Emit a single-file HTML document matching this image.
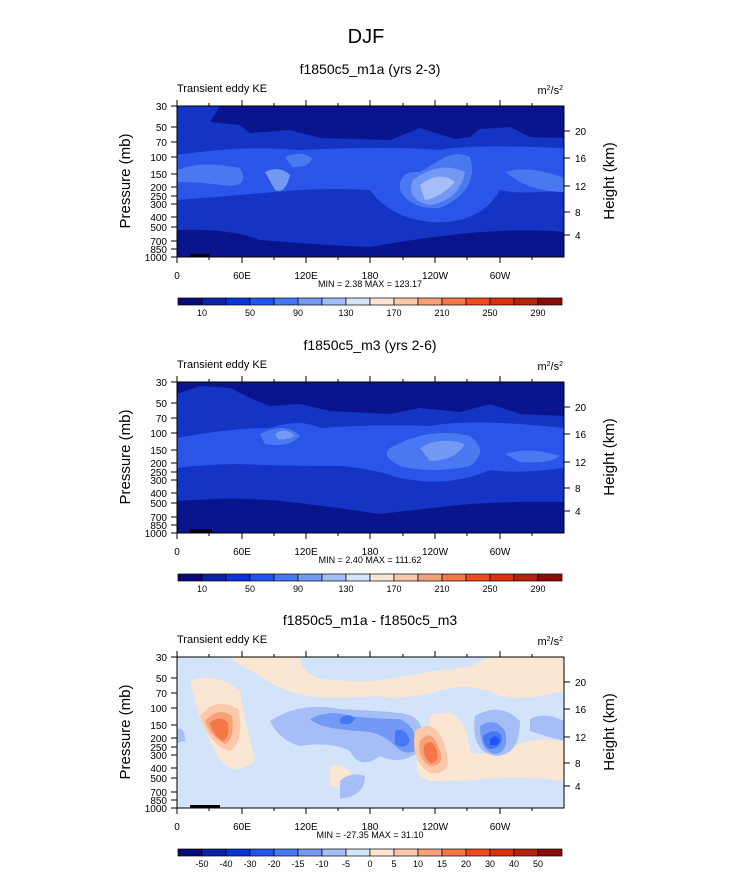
<!DOCTYPE html>
<html><head><meta charset="utf-8"><style>
body{margin:0;background:#fff;}
svg{display:block;font-family:"Liberation Sans",sans-serif;}
</style></head><body>
<svg width="733" height="888" viewBox="0 0 733 888" xmlns="http://www.w3.org/2000/svg">
<defs>
<g id="axes">
  <rect x="177" y="106" width="387" height="151" fill="none" stroke="#000" stroke-width="1"/>
  <g stroke="#000" stroke-width="1">
    <line x1="177" y1="257" x2="177" y2="263"/><line x1="209" y1="257" x2="209" y2="260"/>
    <line x1="242" y1="257" x2="242" y2="263"/><line x1="274" y1="257" x2="274" y2="260"/>
    <line x1="306" y1="257" x2="306" y2="263"/><line x1="338" y1="257" x2="338" y2="260"/>
    <line x1="370" y1="257" x2="370" y2="263"/><line x1="403" y1="257" x2="403" y2="260"/>
    <line x1="435" y1="257" x2="435" y2="263"/><line x1="467" y1="257" x2="467" y2="260"/>
    <line x1="500" y1="257" x2="500" y2="263"/><line x1="532" y1="257" x2="532" y2="260"/>
    <line x1="177" y1="106" x2="177" y2="100"/><line x1="209" y1="106" x2="209" y2="103"/>
    <line x1="242" y1="106" x2="242" y2="100"/><line x1="274" y1="106" x2="274" y2="103"/>
    <line x1="306" y1="106" x2="306" y2="100"/><line x1="338" y1="106" x2="338" y2="103"/>
    <line x1="370" y1="106" x2="370" y2="100"/><line x1="403" y1="106" x2="403" y2="103"/>
    <line x1="435" y1="106" x2="435" y2="100"/><line x1="467" y1="106" x2="467" y2="103"/>
    <line x1="500" y1="106" x2="500" y2="100"/><line x1="532" y1="106" x2="532" y2="103"/>
    <line x1="171" y1="106" x2="177" y2="106"/><line x1="171" y1="127" x2="177" y2="127"/>
    <line x1="171" y1="142" x2="177" y2="142"/><line x1="171" y1="157" x2="177" y2="157"/>
    <line x1="171" y1="174" x2="177" y2="174"/><line x1="171" y1="187" x2="177" y2="187"/>
    <line x1="171" y1="196" x2="177" y2="196"/><line x1="171" y1="204" x2="177" y2="204"/>
    <line x1="171" y1="217" x2="177" y2="217"/><line x1="171" y1="227" x2="177" y2="227"/>
    <line x1="171" y1="241" x2="177" y2="241"/><line x1="171" y1="249" x2="177" y2="249"/>
    <line x1="171" y1="257" x2="177" y2="257"/>
    <line x1="564" y1="131" x2="570" y2="131"/><line x1="564" y1="158" x2="570" y2="158"/>
    <line x1="564" y1="186" x2="570" y2="186"/><line x1="564" y1="212" x2="570" y2="212"/>
    <line x1="564" y1="235" x2="570" y2="235"/>
  </g>
  <g font-size="10" text-anchor="end">
    <text x="167" y="110">30</text><text x="167" y="131">50</text><text x="167" y="146">70</text>
    <text x="167" y="161">100</text><text x="167" y="178">150</text><text x="167" y="191">200</text>
    <text x="167" y="200">250</text><text x="167" y="208">300</text><text x="167" y="221">400</text>
    <text x="167" y="231">500</text><text x="167" y="245">700</text><text x="167" y="253">850</text>
    <text x="167" y="261">1000</text>
  </g>
  <g font-size="10">
    <text x="575" y="135">20</text><text x="575" y="162">16</text><text x="575" y="190">12</text>
    <text x="575" y="216">8</text><text x="575" y="239">4</text>
  </g>
  <g font-size="10" text-anchor="middle">
    <text x="177" y="279">0</text><text x="242" y="279">60E</text><text x="306" y="279">120E</text>
    <text x="370" y="279">180</text><text x="435" y="279">120W</text><text x="500" y="279">60W</text>
  </g>
  <text x="177" y="92" font-size="11">Transient eddy KE</text>
  <text x="563" y="94" font-size="11" text-anchor="end">m<tspan font-size="7" dy="-4">2</tspan><tspan dy="4">/s</tspan><tspan font-size="7" dy="-4">2</tspan></text>
  <text transform="translate(130,181) rotate(-90)" font-size="15" text-anchor="middle">Pressure (mb)</text>
  <text transform="translate(614,181) rotate(-90)" font-size="15" text-anchor="middle">Height (km)</text>
</g>
<g id="cbar">
  <g stroke="#000" stroke-width="0.7">
  <rect x="178" y="298" width="24" height="7" fill="#0a0a78"/>
  <rect x="202" y="298" width="24" height="7" fill="#0c22a8"/>
  <rect x="226" y="298" width="24" height="7" fill="#0a34d8"/>
  <rect x="250" y="298" width="24" height="7" fill="#2255f0"/>
  <rect x="274" y="298" width="24" height="7" fill="#4678f5"/>
  <rect x="298" y="298" width="24" height="7" fill="#7399f5"/>
  <rect x="322" y="298" width="24" height="7" fill="#a5bef7"/>
  <rect x="346" y="298" width="24" height="7" fill="#d2e3fa"/>
  <rect x="370" y="298" width="24" height="7" fill="#fbe6d4"/>
  <rect x="394" y="298" width="24" height="7" fill="#fbc8aa"/>
  <rect x="418" y="298" width="24" height="7" fill="#f8a07a"/>
  <rect x="442" y="298" width="24" height="7" fill="#f57646"/>
  <rect x="466" y="298" width="24" height="7" fill="#f04b1e"/>
  <rect x="490" y="298" width="24" height="7" fill="#dc320a"/>
  <rect x="514" y="298" width="24" height="7" fill="#b4230a"/>
  <rect x="538" y="298" width="24" height="7" fill="#8c0a0a"/>
  </g>
</g>
<clipPath id="pc"><rect x="177" y="106" width="387" height="151"/></clipPath>
</defs>

<text x="366" y="43" font-size="20" text-anchor="middle">DJF</text>

<!-- Panel 1 -->
<text x="370" y="74" font-size="14" text-anchor="middle">f1850c5_m1a (yrs 2-3)</text>
<g clip-path="url(#pc)">
  <rect x="177" y="106" width="387" height="151" fill="#1434c4"/>
  <path d="M320,106 L564,106 L564,138 L530,137 L510,127 L480,129 L470,137 L455,139 L420,128 L390,140 L320,138 L290,130 L250,133 L240,125 L210,122 L220,106 Z" fill="#0a148c"/>
  <path d="M177,155 Q240,145 300,150 Q390,146 440,150 Q470,144 564,148 L564,190 Q520,195 500,190 Q480,225 430,222 Q390,218 370,190 Q330,188 300,190 Q240,195 177,200 Z" fill="#2a55e8"/>
  <path d="M178,170 Q200,160 240,168 Q250,185 230,186 Q200,182 178,182 Z M285,157 Q300,150 312,158 Q310,168 292,167 Z M440,160 Q455,150 470,157 Q480,190 440,208 Q410,210 400,190 Q398,170 420,172 Z M505,172 Q530,165 564,178 L564,192 Q540,192 520,182 Z" fill="#4a78f0"/>
  <path d="M265,172 Q280,165 290,175 Q285,195 275,190 Z M413,180 Q440,160 465,172 Q460,200 430,205 Q405,200 413,180 Z" fill="#7399f5"/>
  <path d="M420,185 Q440,170 455,182 Q440,198 425,200 Z" fill="#a5bef7"/>
  <path d="M177,230 Q230,228 260,240 Q320,245 370,247 Q420,238 460,234 Q520,228 564,232 L564,257 L177,257 Z" fill="#0a148c"/>
  <rect x="190" y="254" width="20" height="3" fill="#000"/>
</g>
<use href="#axes"/>
<text x="370" y="287" font-size="9" text-anchor="middle">MIN =   2.38  MAX = 123.17</text>
<use href="#cbar"/>
<g font-size="9" text-anchor="middle">
  <text x="202" y="316">10</text><text x="250" y="316">50</text><text x="298" y="316">90</text>
  <text x="346" y="316">130</text><text x="394" y="316">170</text><text x="442" y="316">210</text>
  <text x="490" y="316">250</text><text x="538" y="316">290</text>
</g>

<!-- Panel 2 -->
<g transform="translate(0,276)">
<text x="370" y="74" font-size="14" text-anchor="middle">f1850c5_m3 (yrs 2-6)</text>
<g clip-path="url(#pc)">
  <rect x="177" y="106" width="387" height="151" fill="#1434c4"/>
  <path d="M177,106 L564,106 L564,140 L520,138 L490,128 L460,136 L420,132 L390,138 L330,135 L300,128 L270,130 L250,122 L230,112 L200,110 L177,118 Z" fill="#0a148c"/>
  <path d="M177,162 Q230,152 270,152 Q300,142 320,152 Q380,148 430,150 Q470,142 564,152 L564,192 Q520,198 490,194 Q450,212 400,202 Q370,192 340,190 Q280,190 240,188 Q210,188 177,192 Z" fill="#2a55e8"/>
  <path d="M260,158 Q285,145 300,160 Q290,172 265,168 Z M390,172 Q430,150 470,160 Q490,175 470,190 Q430,198 400,190 Q380,180 390,172 Z M505,178 Q530,170 560,180 Q550,188 520,186 Z" fill="#4a78f0"/>
  <path d="M275,158 Q285,150 295,160 Q285,165 278,163 Z M420,172 Q440,160 465,168 Q455,185 430,185 Z" fill="#7399f5"/>
  <path d="M177,225 Q240,220 290,226 Q340,232 380,238 Q430,232 470,228 Q520,225 564,226 L564,257 L177,257 Z" fill="#0a148c"/>
  <rect x="190" y="253" width="22" height="4" fill="#000"/>
</g>
<use href="#axes"/>
<text x="370" y="287" font-size="9" text-anchor="middle">MIN =   2.40  MAX = 111.62</text>
<use href="#cbar"/>
<g font-size="9" text-anchor="middle">
  <text x="202" y="316">10</text><text x="250" y="316">50</text><text x="298" y="316">90</text>
  <text x="346" y="316">130</text><text x="394" y="316">170</text><text x="442" y="316">210</text>
  <text x="490" y="316">250</text><text x="538" y="316">290</text>
</g>
</g>

<!-- Panel 3 -->
<g transform="translate(0,551)">
<text x="370" y="74" font-size="14" text-anchor="middle">f1850c5_m1a - f1850c5_m3</text>
<g clip-path="url(#pc)">
  <rect x="177" y="106" width="387" height="151" fill="#d2e3fa"/>
  <path d="M230,106 L300,106 Q300,120 320,128 Q370,132 390,128 Q430,120 470,116 L490,106 L564,106 L564,140 Q520,150 500,145 Q470,130 440,140 Q400,150 380,145 Q330,148 310,145 Q280,140 260,125 Q240,115 230,106 Z" fill="#fbe6d4"/>
  <path d="M190,130 Q215,120 240,140 Q245,170 255,210 Q230,230 215,200 Q200,170 195,150 Z M330,215 Q345,210 355,228 Q345,240 330,235 Z M430,165 Q465,150 470,200 Q490,230 460,230 Q435,220 430,190 Z M420,200 Q470,205 510,200 Q520,185 564,190 L564,230 Q520,225 490,228 Q460,230 430,230 Q410,225 420,200 Z" fill="#fbe6d4"/>
  <path d="M270,170 Q300,150 340,158 Q380,160 400,162 Q430,165 420,200 Q400,215 380,205 Q360,220 350,200 Q330,190 300,195 Q280,190 270,170 Z M340,230 Q350,220 365,225 Q365,245 340,248 Z M475,165 Q500,150 520,170 Q520,205 495,205 Q470,200 475,165 Z M177,178 Q185,175 185,190 L177,192 Z M530,168 Q545,160 564,170 L564,190 Q545,185 530,180 Z" fill="#a5bef7"/>
  <path d="M310,168 Q330,158 350,165 Q380,168 400,168 Q420,178 415,200 Q405,205 395,195 Q380,180 360,180 Q320,178 310,168 Z M480,175 Q495,165 505,180 Q510,200 495,203 Q480,200 480,175 Z" fill="#7399f5"/>
  <path d="M340,168 Q348,160 355,168 Q350,176 340,172 Z M395,180 Q405,175 410,190 Q405,200 395,193 Z M483,185 Q495,175 502,185 Q502,198 490,198 Q483,195 483,185 Z" fill="#4678f5"/>
  <path d="M490,188 Q496,182 500,190 Q498,196 490,194 Z" fill="#2255f0"/>
  <path d="M200,165 Q215,145 238,158 Q245,190 230,200 Q210,195 200,165 Z M415,180 Q435,165 445,195 Q455,225 430,222 Q410,210 415,180 Z" fill="#fbc8aa"/>
  <path d="M205,170 Q218,155 232,165 Q235,188 225,193 Q210,185 205,170 Z M420,190 Q432,175 440,200 Q445,215 430,215 Q417,208 420,190 Z" fill="#f8a07a"/>
  <path d="M210,172 Q220,163 228,172 Q230,188 222,190 Q212,182 210,172 Z M424,195 Q432,185 437,200 Q440,212 430,212 Q422,205 424,195 Z" fill="#f57646"/>
  <rect x="190" y="254" width="30" height="3" fill="#000"/>
</g>
<use href="#axes"/>
<text x="370" y="287" font-size="9" text-anchor="middle">MIN = -27.35  MAX =  31.10</text>
<use href="#cbar"/>
<g font-size="9" text-anchor="middle">
  <text x="202" y="316">-50</text><text x="226" y="316">-40</text><text x="250" y="316">-30</text>
  <text x="274" y="316">-20</text><text x="298" y="316">-15</text><text x="322" y="316">-10</text>
  <text x="346" y="316">-5</text><text x="370" y="316">0</text><text x="394" y="316">5</text>
  <text x="418" y="316">10</text><text x="442" y="316">15</text><text x="466" y="316">20</text>
  <text x="490" y="316">30</text><text x="514" y="316">40</text><text x="538" y="316">50</text>
</g>
</g>
</svg>
</body></html>
